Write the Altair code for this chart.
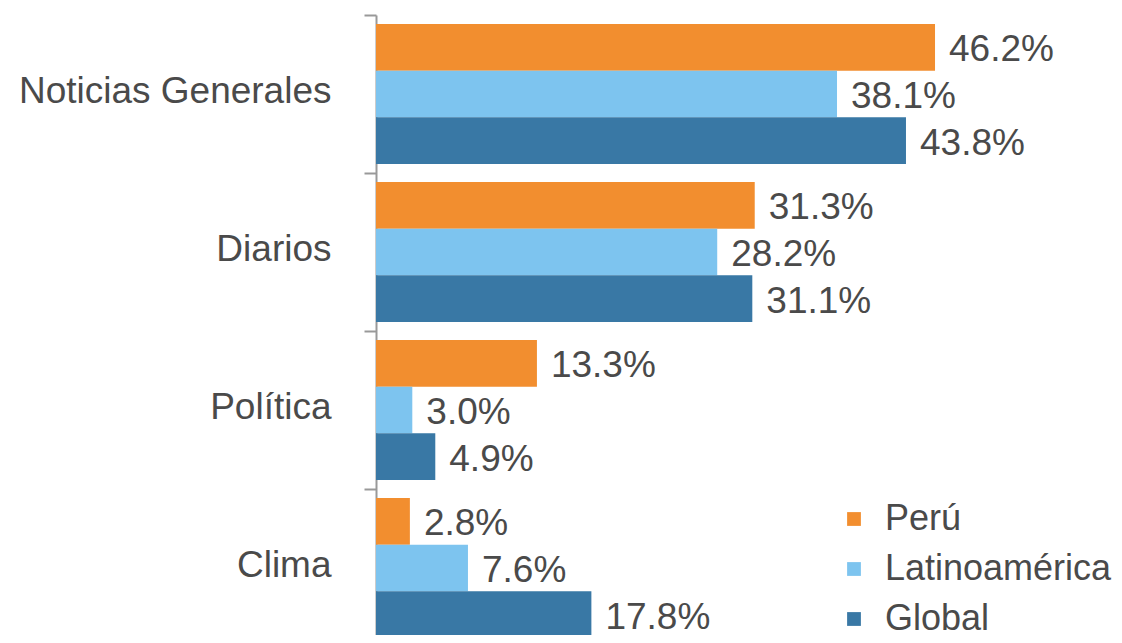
import altair as alt
import pandas as pd

categories = ["Noticias Generales", "Diarios", "Política", "Clima"]
series = ["Perú", "Latinoamérica", "Global"]
peru = [46.2, 31.3, 13.3, 2.8]
latam = [38.1, 28.2, 3.0, 7.6]
glob = [43.8, 31.1, 4.9, 17.8]
colors = ["#F28E2F", "#7DC4EF", "#3978A5"]

rows = []
for s, vals in zip(series, [peru, latam, glob]):
    for c, v in zip(categories, vals):
        rows.append({"cat": c, "serie": s, "val": v, "lbl": f"{v:.1f}%"})
df = pd.DataFrame(rows)

FONT = "Liberation Sans"
TXT = "#4a4a4a"
FS = 37

base = alt.Chart(df).encode(
    y=alt.Y("cat:N", sort=categories, title=None,
            scale=alt.Scale(range=[0, 632], paddingInner=0, paddingOuter=0),
            axis=alt.Axis(tickBand="extent", domainColor="#999999", domainWidth=2,
                          tickColor="#999999", tickWidth=2, tickSize=12,
                          labelFontSize=FS, labelFont=FONT, labelColor=TXT,
                          labelPadding=33, labelLimit=0, labelOffset=-3)),
    yOffset=alt.YOffset("serie:N", sort=series,
                        scale=alt.Scale(paddingInner=0, paddingOuter=0.19)),
)

bars = base.mark_bar(stroke=None).encode(
    x=alt.X("val:Q", scale=alt.Scale(domain=[0, 50]), axis=None),
    color=alt.Color("serie:N", sort=series,
                    scale=alt.Scale(domain=series, range=colors),
                    legend=alt.Legend(title=None, orient="none", legendX=460, legendY=486,
                                      symbolType="square", symbolSize=190,
                                      symbolStrokeWidth=0,
                                      labelFontSize=36, labelFont=FONT,
                                      labelColor=TXT, labelOffset=13,
                                      labelLimit=0, rowPadding=14)),
)

text = base.mark_text(align="left", baseline="middle", dx=14, dy=3, fontSize=FS,
                      font=FONT, color=TXT).encode(
    x=alt.X("val:Q"),
    text="lbl:N",
)

chart = alt.layer(bars, text).properties(
    width=605, height=620,
    padding={"left": 368, "top": 7, "right": 132, "bottom": 0},
    autosize=alt.AutoSizeParams(type="none"),
).configure_view(stroke=None)

chart.save("out.html", embed_options={"renderer": "svg", "actions": False})
